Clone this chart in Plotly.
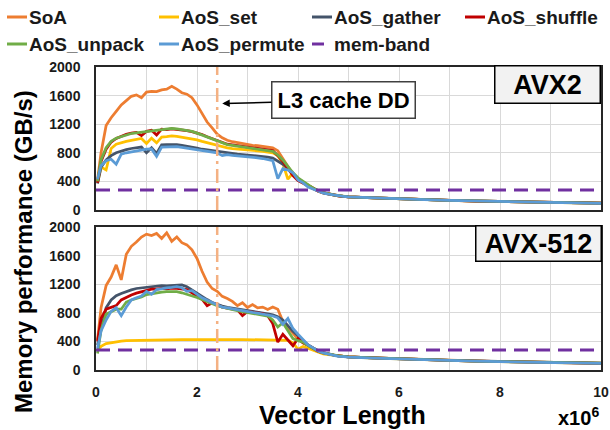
import plotly.graph_objects as go

# ---------------- data ----------------
X = [0.03, 0.1, 0.2, 0.3, 0.4, 0.5, 0.6, 0.7, 0.8, 0.9, 1.0,
     1.1, 1.2, 1.3, 1.4, 1.5, 1.6, 1.7, 1.8, 1.9, 2.0,
     2.1, 2.2, 2.3, 2.4, 2.5, 2.6, 2.7, 2.8, 2.9, 3.0,
     3.1, 3.2, 3.3, 3.4, 3.5, 3.6, 3.7, 3.8, 3.9, 4.0,
     4.1, 4.2, 4.3, 4.4, 4.5, 4.6, 4.7, 4.8, 4.9, 5.0,
     5.5, 6.0, 6.5, 7.0, 7.5, 8.0, 8.5, 9.0, 9.5, 10.0]

series_names = ["SoA", "AoS_set", "AoS_gather", "AoS_shuffle", "AoS_unpack", "AoS_permute"]
series_colors = ["#ED7D31", "#FFC000", "#44546A", "#C00000", "#70AD47", "#5B9BD5"]

# AVX2 (top panel)
soa_avx2 = [420, 800, 1180, 1290, 1380, 1470, 1530, 1590, 1610, 1570, 1650,
            1660, 1655, 1680, 1690, 1730, 1690, 1640, 1620, 1570, 1470,
            1340, 1230, 1150, 1060, 1010, 975, 955, 940, 930, 915,
            905, 900, 890, 880, 870, 830, 720, 600, 500, 430,
            390, 340, 300, 265, 240, 225, 210, 200, 190, 185,
            170, 155, 145, 135, 126, 118, 112, 105, 100, 95]
set_avx2 = [380, 600, 560, 860, 920, 945, 960, 975, 990, 1000, 930,
            1005, 940, 1020, 1025, 1035, 1030, 1020, 1010, 1000, 980,
            960, 940, 920, 905, 890, 870, 860, 855, 845, 840,
            835, 825, 820, 810, 800, 760, 650, 430, 520, 430,
            380, 335, 300, 262, 238, 222, 208, 198, 190, 183,
            168, 154, 144, 134, 125, 117, 111, 104, 99, 94]
gather_avx2 = [370, 600, 700, 760, 800, 825, 845, 860, 870, 880, 800,
               870, 790, 910, 915, 920, 915, 905, 895, 880, 865,
               850, 840, 825, 815, 800, 795, 785, 780, 775, 770,
               765, 760, 755, 740, 725, 680, 640, 580, 500, 440,
               390, 345, 305, 268, 242, 225, 210, 199, 191, 184,
               169, 155, 145, 135, 126, 118, 112, 105, 100, 95]
shuffle_avx2 = [380, 680, 850, 950, 1000, 1035, 1060, 1075, 1085, 1040, 1100,
                1115, 1050, 1130, 1125, 1135, 1130, 1120, 1110, 1095, 1080,
                1055, 1025, 1000, 975, 945, 920, 910, 900, 890, 880,
                875, 870, 860, 850, 830, 760, 680, 580, 480, 410,
                380, 340, 300, 262, 240, 224, 209, 198, 190, 184,
                169, 156, 144, 136, 125, 119, 111, 106, 99, 95]
unpack_avx2 = [400, 700, 870, 960, 1005, 1030, 1055, 1070, 1080, 1090, 1100,
               1110, 1120, 1125, 1130, 1140, 1135, 1125, 1115, 1100, 1075,
               1050, 1020, 995, 970, 950, 915, 905, 895, 885, 875,
               865, 860, 850, 835, 820, 770, 700, 610, 520, 450,
               400, 350, 305, 270, 245, 228, 212, 200, 192, 185,
               170, 155, 145, 135, 126, 118, 112, 105, 100, 95]
permute_avx2 = [430, 620, 690, 710, 640, 780, 800, 815, 830, 840, 850,
                855, 750, 880, 885, 890, 885, 875, 865, 855, 845,
                835, 825, 810, 800, 760, 775, 765, 760, 750, 745,
                735, 730, 720, 710, 690, 440, 580, 560, 520, 420,
                380, 320, 290, 255, 235, 222, 208, 198, 190, 183,
                168, 154, 144, 134, 125, 117, 111, 104, 99, 94]

# AVX-512 (bottom panel)
soa_avx512 = [420, 870, 1180, 1300, 1470, 1260, 1620, 1730, 1790, 1860, 1900,
              1880, 1910, 1840, 1920, 1800, 1860, 1780, 1750, 1680, 1560,
              1380, 1230, 1140, 1100, 1030, 1000, 960, 900, 940, 875,
              915, 870, 880, 845, 880, 850, 680, 600, 520, 430,
              380, 340, 305, 270, 245, 225, 210, 198, 190, 182,
              168, 155, 145, 135, 126, 118, 112, 105, 100, 95]
set_avx512 = [280, 330, 370, 385, 400, 405, 410, 412, 415, 418, 420,
              420, 422, 423, 424, 425, 425, 426, 426, 427, 427,
              428, 428, 428, 427, 427, 428, 427, 426, 426, 425,
              425, 424, 424, 423, 422, 421, 420, 415, 380, 290,
              330, 305, 280, 245, 225, 215, 205, 196, 189, 182,
              167, 154, 144, 134, 125, 117, 111, 104, 99, 94]
gather_avx512 = [350, 560, 870, 980, 1040, 1070, 1100, 1120, 1140, 1150, 1160,
                 1165, 1175, 1180, 1175, 1180, 1185, 1190, 1165, 1120, 1070,
                 1020, 985, 945, 915, 895, 875, 865, 850, 840, 830,
                 820, 810, 800, 785, 770, 745, 700, 620, 540, 480,
                 410, 350, 310, 270, 245, 226, 210, 199, 191, 184,
                 169, 155, 145, 135, 126, 118, 112, 105, 100, 95]
shuffle_avx512 = [400, 720, 850, 880, 900, 980, 1020, 1050, 1075, 1095, 1120,
                  1130, 1130, 1140, 1135, 1145, 1140, 1135, 1125, 1080, 1040,
                  990, 900, 940, 910, 880, 865, 855, 840, 760, 820,
                  810, 800, 790, 760, 650, 390, 500, 420, 340, 440,
                  380, 345, 300, 260, 238, 222, 207, 196, 189, 182,
                  168, 154, 144, 134, 125, 117, 111, 104, 99, 94]
unpack_avx512 = [230, 560, 780, 820, 850, 850, 950, 980, 1000, 1020, 1055,
                 1070, 1080, 1090, 1095, 1100, 1095, 1080, 1060, 1040, 1015,
                 985, 955, 925, 900, 880, 860, 845, 830, 815, 805,
                 795, 785, 775, 755, 700, 600, 660, 540, 440, 410,
                 390, 340, 300, 262, 240, 224, 209, 198, 190, 183,
                 168, 155, 144, 135, 125, 118, 111, 105, 99, 95]
permute_avx512 = [300, 545, 700, 820, 870, 760, 880, 980, 1010, 1035, 1100,
                  1060, 1125, 1140, 1150, 1155, 1165, 1150, 1100, 1110, 1060,
                  1010, 975, 940, 905, 880, 870, 855, 840, 825, 815,
                  805, 795, 785, 770, 755, 730, 640, 720, 580, 500,
                  420, 350, 310, 265, 240, 222, 205, 192, 186, 180,
                  166, 153, 143, 133, 124, 117, 110, 103, 98, 93]

mem_band_x = [0, 10]
mem_band_value = 280
mem_band_color = "#7030A0"
l3_cache_x = 2.4

x_tickvals = [0, 2, 4, 6, 8, 10]
y_tickvals = [0, 400, 800, 1200, 1600, 2000]

avx2_series = [soa_avx2, set_avx2, gather_avx2, shuffle_avx2, unpack_avx2, permute_avx2]
avx512_series = [soa_avx512, set_avx512, gather_avx512, shuffle_avx512, unpack_avx512, permute_avx512]

# ---------------- figure ----------------
W, H = 610, 430
L, R, T, B = 96, 9, 67, 60          # plot-area margins in pixels
PW, PH = W - L - R, H - T - B
FONT = "Liberation Sans, Arial, sans-serif"
fig = go.Figure()

for xa, ya, data in (("x", "y", avx2_series), ("x2", "y2", avx512_series)):
    for name, color, ys in zip(series_names, series_colors, data):
        fig.add_trace(go.Scatter(x=X, y=ys, mode="lines", name=name, xaxis=xa, yaxis=ya,
                                 line=dict(color=color, width=2.75), showlegend=False))
    fig.add_trace(go.Scatter(x=mem_band_x, y=[mem_band_value] * len(mem_band_x), mode="lines",
                             name="mem-band", xaxis=xa, yaxis=ya, showlegend=False,
                             line=dict(color=mem_band_color, width=3, dash="14px,8px")))

def px2x(p):
    return (p - L) / PW

def px2y(p):
    return (H - B - p) / PH

top_dom = [px2y(210), 1.0]
bot_dom = [0.0, px2y(227)]

tickfont = dict(family=FONT, size=14, color="#1a1a1a", weight="bold")
grid = "#D9D9D9"
common_x = dict(range=[0, 10], tickvals=x_tickvals, showgrid=True, gridcolor=grid, gridwidth=1,
                minor=dict(dtick=1, showgrid=True, gridcolor=grid, gridwidth=1),
                showline=True, mirror=True, linecolor="#262626", linewidth=1.5,
                zeroline=False, ticks="", tickfont=tickfont, ticklabelstandoff=8,
                domain=[0, 1], automargin=False)
common_y = dict(range=[0, 2000], tickvals=y_tickvals, showgrid=True, gridcolor=grid, gridwidth=1,
                showline=True, mirror=True, linecolor="#262626", linewidth=1.5,
                zeroline=False, ticks="", tickfont=tickfont, ticklabelstandoff=11, automargin=False)

fig.update_layout(
    width=W, height=H, margin=dict(l=L, r=R, t=T, b=B, autoexpand=False),
    paper_bgcolor="white", plot_bgcolor="white", showlegend=False,
    xaxis=dict(common_x, anchor="y", showticklabels=False),
    yaxis=dict(common_y, domain=top_dom, anchor="x"),
    xaxis2=dict(common_x, anchor="y2"),
    yaxis2=dict(common_y, domain=bot_dom, anchor="x2"),
)

# L3 cache vertical lines
for xr, yr in (("x", "y domain"), ("x2", "y2 domain")):
    fig.add_shape(type="line", xref=xr, yref=yr, x0=l3_cache_x, x1=l3_cache_x, y0=0, y1=1,
                  line=dict(color="#F4B183", width=2.5, dash="14px,5px,3px,5px"))

# manual legend
legend_items = series_names + ["mem-band"]
legend_colors = series_colors + [mem_band_color]
col_x = [7, 159, 312, 465]
row_y = [17, 44]
for i, (name, color) in enumerate(zip(legend_items, legend_colors)):
    r, c = divmod(i, 4)
    x0 = col_x[c]
    y0 = row_y[r]
    length = 12 if name == "mem-band" else 20
    fig.add_shape(type="line", xref="paper", yref="paper",
                  x0=px2x(x0), x1=px2x(x0 + length), y0=px2y(y0), y1=px2y(y0),
                  line=dict(color=color, width=3))
    fig.add_annotation(xref="paper", yref="paper", x=px2x(x0 + 20), y=px2y(y0),
                       xanchor="left", yanchor="middle", showarrow=False, text=name,
                       font=dict(family=FONT, size=19, color="#1a1a1a", weight="bold"))

# L3 cache annotation with arrow
fig.add_annotation(xref="x", yref="y", x=2.5, y=1490, ax=121, ay=-3, axref="pixel", ayref="pixel",
                   text="L3 cache DD", showarrow=True, arrowhead=2, arrowsize=1, arrowwidth=1.5,
                   arrowcolor="black", bgcolor="white", bordercolor="#404040", borderwidth=1.5,
                   borderpad=5, font=dict(family=FONT, size=22, color="black", weight="bold"))

# panel labels
fig.add_annotation(xref="paper", yref="paper", x=px2x(547.5), y=px2y(84), xanchor="center", yanchor="middle",
                   showarrow=False, text="AVX2", bgcolor="#F2F2F2", bordercolor="black", borderwidth=1.5,
                   width=104, height=36, borderpad=0,
                   font=dict(family=FONT, size=27, color="black", weight="bold"))
fig.add_annotation(xref="paper", yref="paper", x=px2x(538), y=px2y(243.5), xanchor="center", yanchor="middle",
                   showarrow=False, text="AVX-512", bgcolor="#F2F2F2", bordercolor="black", borderwidth=1.5,
                   width=124, height=34, borderpad=0,
                   font=dict(family=FONT, size=27, color="black", weight="bold"))

# axis titles
fig.add_annotation(xref="paper", yref="paper", x=px2x(24), y=px2y(252), xanchor="center", yanchor="middle",
                   showarrow=False, text="Memory performance (GB/s)", textangle=-90,
                   font=dict(family=FONT, size=24, color="black", weight="bold"))
fig.add_annotation(xref="paper", yref="paper", x=px2x(342), y=px2y(415), xanchor="center", yanchor="middle",
                   showarrow=False, text="Vector Length",
                   font=dict(family=FONT, size=25, color="black", weight="bold"))
fig.add_annotation(xref="paper", yref="paper", x=px2x(601), y=px2y(416), xanchor="right", yanchor="middle",
                   showarrow=False, text="x10<sup>6</sup>",
                   font=dict(family=FONT, size=20, color="black", weight="bold"))

fig.write_html("out.html", config={"displayModeBar": False},
               post_script="document.body.style.margin='0';document.body.style.padding='0';"
                           "document.documentElement.style.overflow='hidden';")
